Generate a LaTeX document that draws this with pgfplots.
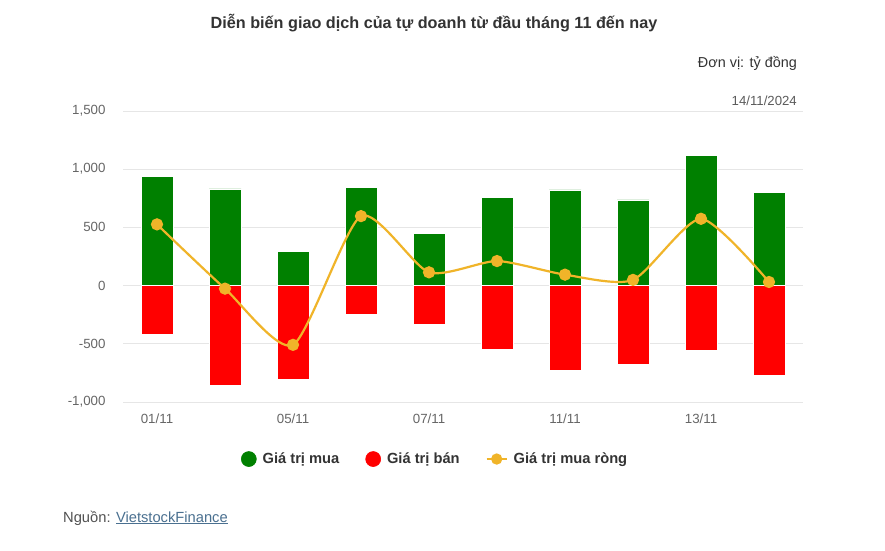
\documentclass[border=0pt]{standalone}
\usepackage{pgfplots}
\pgfplotsset{compat=1.18}
\usepackage{pgfplotstable}
\usepackage{fontspec}
\setmainfont{Liberation Sans}
\definecolor{buy}{HTML}{008000}
\definecolor{sell}{HTML}{FF0000}
\definecolor{net}{HTML}{F0B429}
\definecolor{gridc}{HTML}{E6E6E6}
\definecolor{tickc}{HTML}{666666}
\definecolor{titlec}{HTML}{333333}
\definecolor{linkc}{HTML}{4A7090}
\pgfplotstableread{
x buy sell net
0 937 -420 526
1 831 -857 -26
2 294 -806 -509
3 843 -249 597
4 446 -334 114
5 757 -549 211
6 823 -731 94
7 737 -677 49
8 1120 -560 574
9 800 -771 31
}\data
\begin{document}
\begin{tikzpicture}[x=1pt,y=1pt]
\path[use as bounding box, fill=white] (0,0) rectangle (885,550);
\node[font=\bfseries\fontsize{16.2}{19}\selectfont, text=titlec] at (434,527) {Diễn biến giao dịch của tự doanh từ đầu tháng 11 đến nay};
\node[anchor=east, font=\fontsize{14.4}{16}\selectfont, text=titlec, inner sep=0] at (797,487) {Đơn vị: tỷ đồng};
\node[anchor=east, font=\fontsize{13.2}{15}\selectfont, text=tickc!90!black, inner sep=0] at (797,449) {14/11/2024};
\node[anchor=west, font=\fontsize{14.7}{17}\selectfont, text=tickc!80!black, inner sep=0] at (63,32) {Nguồn: \textcolor{linkc}{\underline{VietstockFinance}}};
\begin{axis}[
  at={(123pt,148pt)}, anchor=south west,
  scale only axis, width=680pt, height=291pt,
  xmin=-0.5, xmax=9.5, ymin=-1000, ymax=1500,
  ytick={-1000,-500,0,500,1000,1500},
  xtick={0,2,4,6,8},
  xticklabels={01/11,05/11,07/11,11/11,13/11},
  ymajorgrids, grid style={gridc, line width=1pt},
  axis line style={draw=none}, major tick length=0pt,
  tick label style={font=\fontsize{13.3}{15}\selectfont, text=tickc},
  /pgf/number format/assume math mode=true,
  yticklabel style={/pgf/number format/.cd, 1000 sep={,}, /tikz/.cd, xshift=-14pt},
  xticklabel style={yshift=-8pt},
  legend columns=3,
  legend style={draw=none, fill=none, at={(0.459,-0.196)}, anchor=center,
    font=\bfseries\fontsize{14.7}{17}\selectfont, text=titlec,
    /tikz/every odd column/.append style={column sep=4pt},
    /tikz/every even column/.append style={column sep=24pt}},
]
\addplot[ybar, bar width=32pt, bar shift=0pt, fill=buy, draw=white, line width=0.6pt,
  legend image code/.code={\fill[buy] (7.5pt,0pt) circle (7.5pt);}]
  table[x=x, y=buy]{\data};
\addlegendentry{Giá trị mua}
\addplot[ybar, bar width=32pt, bar shift=0pt, fill=sell, draw=white, line width=0.6pt,
  legend image code/.code={\fill[sell] (7.5pt,0pt) circle (7.5pt);}]
  table[x=x, y=sell]{\data};
\addlegendentry{Giá trị bán}
\addplot[net, line width=2.2pt, smooth, tension=0.4, mark=*, mark size=5pt,
  mark options={solid, fill=net, draw=none},
  legend image code/.code={\draw[net, line width=2pt] (0pt,0)--(20pt,0); \fill[net] (10pt,0) circle (4.5pt);}]
  table[x=x, y=net]{\data};
\addlegendentry{Giá trị mua ròng}
\end{axis}
\end{tikzpicture}
\end{document}
